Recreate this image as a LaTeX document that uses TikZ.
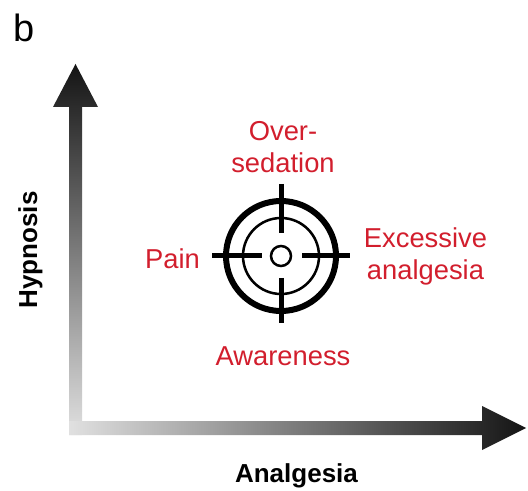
\documentclass[tikz,border=0pt]{standalone}
\usepackage{fontspec}
\setmainfont{Liberation Sans}
\definecolor{labelred}{RGB}{210,30,45}
\begin{document}
\begin{tikzpicture}[x={(0.75pt,0)},y={(0,-0.75pt)},
  lbl/.style={inner sep=0pt,text=labelred,align=center,
    font=\fontsize{20.5}{24}\selectfont},
  axislbl/.style={inner sep=0pt,font=\fontsize{19.5}{23}\selectfont\bfseries},
  ring/.style={draw=black,fill=none},
  hair/.style={draw=black,line width=3.75pt}]
\useasboundingbox (0,0) rectangle (528,491);

% panel letter
\node[inner sep=0pt,anchor=base,font=\fontsize{28.5}{32}\selectfont] (panel) at (24,42) {b};

% shaded axes
\shade[top color=black!92,bottom color=black!12]
  (69,435) -- (69,107) -- (53,107) -- (75.5,64) -- (98,107) -- (82,107) -- (82,435) -- cycle;
\shade[left color=black!12,right color=black!92]
  (69,421) -- (482,421) -- (482,406) -- (526,428) -- (482,450) -- (482,435) -- (69,435) -- cycle;

% axis titles
\node[axislbl,anchor=base,rotate=90] (hyp) at (37,250) {Hypnosis};
\node[axislbl,anchor=base] (ana) at (296.5,482) {Analgesia};

% target with crosshair
\coordinate (c) at (281,256);
\draw[ring,line width=4.5pt] (c) circle[radius=41.25pt];
\draw[ring,line width=1.9pt] (c) circle[radius=28.5pt];
\draw[ring,line width=1.9pt] (c) circle[radius=7.5pt];
\draw[hair] ([xshift=-51.75pt]c) -- ([xshift=-14.25pt]c);
\draw[hair] ([xshift=15.75pt]c) -- ([xshift=51.75pt]c);
\draw[hair] ([yshift=54pt]c) -- ([yshift=17.25pt]c);
\draw[hair] ([yshift=-16.5pt]c) -- ([yshift=-50.25pt]c);

% outcome labels
\node[lbl] (over) at (283,147) {Over-\\sedation};
\node[lbl,anchor=base] (pain) at (172.5,269) {Pain};
\node[lbl] (exc) at (425.5,256) {Excessive\\analgesia};
\node[lbl,anchor=base] (aware) at (283,366) {Awareness};
\end{tikzpicture}
\end{document}
